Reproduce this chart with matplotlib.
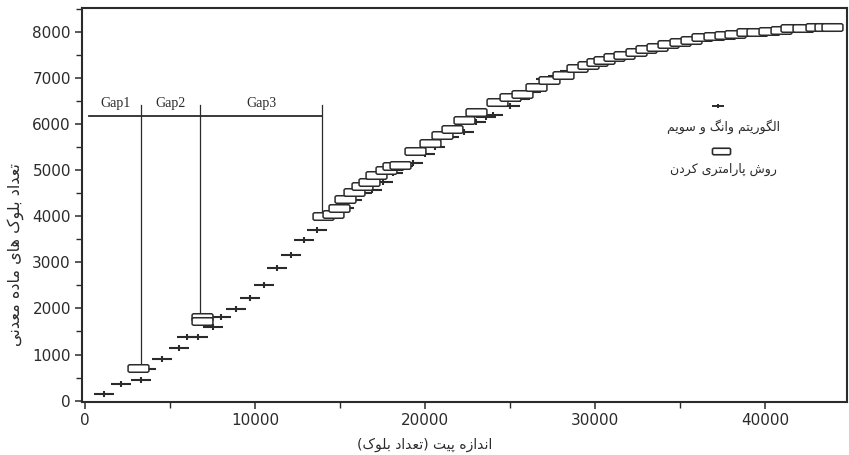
import matplotlib
matplotlib.use("Agg")
import matplotlib.pyplot as plt
from matplotlib.path import Path
from matplotlib.ticker import MultipleLocator

# ---------------- data ----------------
wang_x = [1100, 2100, 3300, 3600, 4500, 5500, 6000, 6650, 7500, 8000, 8900, 9700,
          10500, 11300, 12100, 12900, 13650, 14300, 15200, 15700, 16300, 16900,
          17500, 18100, 18700, 19300, 20000, 20600, 21400, 22300, 23000, 23600,
          24000, 25000, 25600, 26200, 27100, 27800, 28500, 29200, 29900, 30600,
          31300, 32000, 32700, 33400, 34100, 34800, 35500, 36200, 36900, 37600,
          38300, 39000, 39700, 40400, 41100, 41800]
wang_y = [150, 350, 450, 680, 900, 1150, 1370, 1380, 1590, 1820, 1990, 2230,
          2510, 2880, 3150, 3480, 3710, 3960, 4180, 4350, 4500, 4570,
          4750, 4950, 5100, 5150, 5350, 5500, 5720, 5830, 6040, 6150,
          6200, 6390, 6550, 6700, 6980, 7050, 7150, 7250, 7330, 7390,
          7450, 7520, 7580, 7640, 7700, 7760, 7810, 7860, 7900, 7930,
          7960, 7990, 8010, 8030, 8060, 8080]

param_x = [3100, 6900, 6900, 14000, 14600, 14950, 15300, 15800, 16300, 16700,
           17100, 17700, 18100, 18500, 19400, 20300, 21000, 21600, 22300, 23000,
           24200, 25000, 25700, 26500, 27300, 28100, 28900, 29600, 30100, 30500,
           31100, 31700, 32400, 33000, 33600, 34300, 35000, 35600, 36300, 37000,
           37600, 38200, 38900, 39500, 40200, 40900, 41500, 42200, 43000, 43500,
           43900]
param_y = [700, 1820, 1720, 4000, 4050, 4170, 4370, 4520, 4650, 4740,
           4890, 5000, 5100, 5120, 5410, 5600, 5760, 5900, 6090, 6260,
           6480, 6590, 6650, 6800, 6950, 7060, 7210, 7280, 7340, 7390,
           7450, 7500, 7570, 7620, 7670, 7730, 7790, 7830, 7880, 7910,
           7930, 7960, 7990, 8000, 8030, 8050, 8080, 8090, 8100, 8100,
           8100]

gap_labels = ["Gap1", "Gap2", "Gap3"]
gap_bounds = [250, 3300, 6750, 13950]      # x of boundaries
gap_bottoms = [700, 1900, 4100]            # lower ends of vertical lines
gap_line_y = 6170
gap_top_y = 6420

legend_labels = ["الگوریتم وانگ و سویم", "روش پارامتری کردن"]
xlabel = "اندازه پیت (تعداد بلوک)"
ylabel = "تعداد بلوک های ماده معدنی"

# ---------------- simple Persian shaping (matplotlib has no text shaping) ----------------
FORMS = {  # iso, fin, ini, med
    'ا': ('\uFE8D', '\uFE8E', None, None),
    'ب': ('\uFE8F', '\uFE90', '\uFE91', '\uFE92'),
    'پ': ('\uFB56', '\uFB57', '\uFB58', '\uFB59'),
    'ت': ('\uFE95', '\uFE96', '\uFE97', '\uFE98'),
    'د': ('\uFEA9', '\uFEAA', None, None),
    'ر': ('\uFEAD', '\uFEAE', None, None),
    'ز': ('\uFEAF', '\uFEB0', None, None),
    'س': ('\uFEB1', '\uFEB2', '\uFEB3', '\uFEB4'),
    'ش': ('\uFEB5', '\uFEB6', '\uFEB7', '\uFEB8'),
    'ع': ('\uFEC9', '\uFECA', '\uFECB', '\uFECC'),
    'ک': ('\uFB8E', '\uFB8F', '\uFB90', '\uFB91'),
    'گ': ('\uFB92', '\uFB93', '\uFB94', '\uFB95'),
    'ل': ('\uFEDD', '\uFEDE', '\uFEDF', '\uFEE0'),
    'م': ('\uFEE1', '\uFEE2', '\uFEE3', '\uFEE4'),
    'ن': ('\uFEE5', '\uFEE6', '\uFEE7', '\uFEE8'),
    'و': ('\uFEED', '\uFEEE', None, None),
    'ه': ('\uFEE9', '\uFEEA', '\uFEEB', '\uFEEC'),
    'ی': ('\uFBFC', '\uFBFD', '\uFBFE', '\uFBFF'),
}


def shape(text):
    out = []
    n = len(text)
    for i, c in enumerate(text):
        if c not in FORMS:
            out.append(c)
            continue
        prev = text[i - 1] if i > 0 else None
        nxt = text[i + 1] if i + 1 < n else None
        jp = prev in FORMS and FORMS[prev][2] is not None
        jn = FORMS[c][2] is not None and nxt in FORMS
        iso, fin, ini, med = FORMS[c]
        if jp and jn:
            out.append(med)
        elif jp:
            out.append(fin)
        elif jn:
            out.append(ini)
        else:
            out.append(iso)
    vis = ''.join(reversed(out))
    swap = {'(': ')', ')': '('}
    return ''.join(swap.get(ch, ch) for ch in vis)


# ---------------- markers ----------------
dash_marker = Path([(-1, 0), (1, 0), (0, -0.3), (0, 0.3)],
                   [Path.MOVETO, Path.LINETO, Path.MOVETO, Path.LINETO])
box_marker = Path([(-1, -0.26), (-0.88, -0.36), (0.88, -0.36), (1, -0.26),
                   (1, 0.26), (0.88, 0.36), (-0.88, 0.36), (-1, 0.26), (-1, -0.26)],
                  [Path.MOVETO] + [Path.LINETO] * 7 + [Path.CLOSEPOLY])

ink = '#2b2b2b'

fig = plt.figure(figsize=(8.49, 4.55), dpi=100)
ax = fig.add_axes([82 / 849, 1 - 402 / 455, 765 / 849, 394 / 455])

ax.plot(wang_x, wang_y, linestyle='none', marker=dash_marker, markersize=14.5,
        markeredgewidth=1.5, color=ink, zorder=3)
ax.plot(param_x, param_y, linestyle='none', marker=box_marker, markersize=15,
        markeredgewidth=1.1, markerfacecolor='white', markeredgecolor=ink, zorder=4)

# gap annotation
ax.plot([gap_bounds[0], gap_bounds[-1]], [gap_line_y, gap_line_y], color=ink, lw=1.3, zorder=2)
for xb, yb in zip(gap_bounds[1:], gap_bottoms):
    ax.plot([xb, xb], [yb, gap_top_y], color=ink, lw=0.9, zorder=2)
for i, lab in enumerate(gap_labels):
    xc = (gap_bounds[i] + gap_bounds[i + 1]) / 2
    ax.text(xc, 6450, lab, ha='center', va='center', fontsize=10,
            family='Liberation Serif', color=ink)

# legend (manual)
ax.plot([0.832], [0.752], transform=ax.transAxes, marker=dash_marker, markersize=9,
        markeredgewidth=1.4, color=ink, linestyle='none', clip_on=False)
ax.text(0.838, 0.700, shape(legend_labels[0]), transform=ax.transAxes,
        ha='center', va='center', fontsize=9, family='DejaVu Sans', color=ink)
ax.plot([0.835], [0.637], transform=ax.transAxes, marker=box_marker, markersize=13,
        markeredgewidth=1.2, markerfacecolor='white', markeredgecolor=ink,
        linestyle='none', clip_on=False)
ax.text(0.838, 0.590, shape(legend_labels[1]), transform=ax.transAxes,
        ha='center', va='center', fontsize=9, family='DejaVu Sans', color=ink)

ax.set_xlim(-180, 44800)
ax.set_ylim(-30, 8520)
ax.xaxis.set_major_locator(MultipleLocator(10000))
ax.xaxis.set_minor_locator(MultipleLocator(5000))
ax.yaxis.set_major_locator(MultipleLocator(1000))
ax.yaxis.set_minor_locator(MultipleLocator(500))
ax.tick_params(axis='both', which='major', direction='out', length=5, width=1.1,
               colors=ink, labelsize=11, pad=3)
ax.tick_params(axis='both', which='minor', direction='out', length=4, width=1.0, colors=ink)
for sp in ax.spines.values():
    sp.set_color(ink)
    sp.set_linewidth(1.5)

ax.set_xlabel(shape(xlabel), fontsize=10, family='DejaVu Sans', color=ink)
ax.xaxis.set_label_coords((425 - 82) / 765, -(438 - 402) / 394)
ax.set_ylabel(shape(ylabel), fontsize=11.5, family='DejaVu Sans', color=ink)
ax.yaxis.set_label_coords(-(82 - 24) / 765, (402 - 255) / 394)

fig.savefig('out.png', dpi=100)
